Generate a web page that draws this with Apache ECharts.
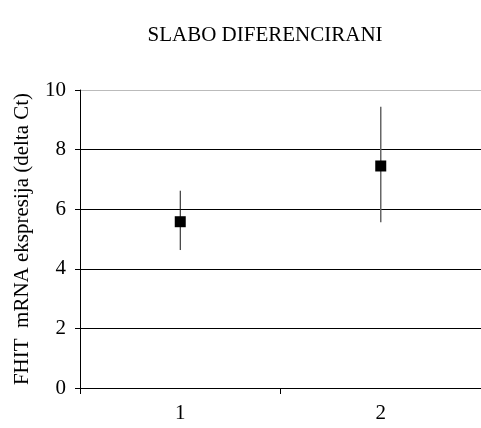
<!DOCTYPE html>
<html><head><meta charset="utf-8">
<script src="https://cdn.jsdelivr.net/npm/echarts@6/dist/echarts.min.js"></script>
<style>html,body{margin:0;padding:0;background:#fff}#c{width:481px;height:428px}</style>
</head><body><div id="c"></div>
<script>
const categories = ['1', '2'];
const means = [5.58, 7.45];
const lows = [4.63, 5.56];
const highs = [6.62, 9.44];
const yTicks = [0, 2, 4, 6, 8, 10];

const chart = echarts.init(document.getElementById('c'), null, {renderer: 'canvas'});
const font = '"Liberation Serif", "Times New Roman", serif';
const errData = categories.map((c, i) => [i, lows[i], highs[i]]);
chart.setOption({
  animation: false,
  backgroundColor: '#fff',
  title: {
    text: 'SLABO DIFERENCIRANI', left: 260, top: 20, textAlign: 'center',
    textStyle: {fontFamily: font, fontSize: 21, fontWeight: 'normal', color: '#000'}
  },
  grid: {left: 80, right: 0, top: 90, bottom: 40, containLabel: false},
  xAxis: {
    type: 'category', data: categories, boundaryGap: true,
    axisLine: {lineStyle: {color: '#000', width: 1}},
    axisTick: {show: true, length: 6, lineStyle: {color: '#000'}},
    axisLabel: {fontFamily: font, fontSize: 21, color: '#000', margin: 15}
  },
  yAxis: {
    type: 'value', min: yTicks[0], max: yTicks[yTicks.length - 1], interval: 2,
    name: 'FHIT  mRNA ekspresija (delta Ct)', nameLocation: 'middle', nameGap: 47,
    nameTextStyle: {fontFamily: font, fontSize: 21, color: '#000'},
    axisLine: {show: true, lineStyle: {color: '#000'}},
    axisTick: {show: true, length: 5, lineStyle: {color: '#000'}},
    axisLabel: {fontFamily: font, fontSize: 21, color: '#000', margin: 14},
    splitLine: {show: true, lineStyle: {color: ['#000', '#000', '#000', '#000', '#000', '#bbb'], width: 1}}
  },
  series: [
    {
      type: 'custom',
      data: errData,
      renderItem: function (params, api) {
        const x = api.value(0);
        const p1 = api.coord([x, api.value(1)]);
        const p2 = api.coord([x, api.value(2)]);
        return {
          type: 'line',
          shape: {x1: p1[0], y1: p1[1], x2: p2[0], y2: p2[1]},
          style: {stroke: params.dataIndex === 0 ? '#111' : '#666', lineWidth: params.dataIndex === 0 ? 1 : 1.5}
        };
      },
      z: 2
    },
    {
      type: 'scatter',
      data: means,
      symbol: 'rect',
      symbolSize: 11,
      itemStyle: {color: '#000', opacity: 1},
      z: 3
    }
  ]
});
</script></body></html>
